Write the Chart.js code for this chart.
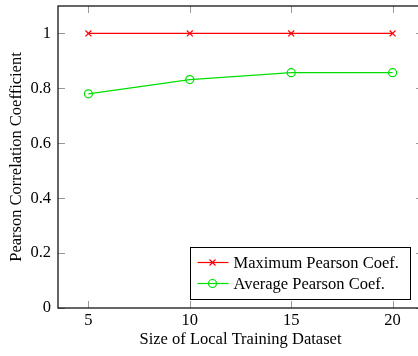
<!DOCTYPE html>
<html>
<head>
<meta charset="utf-8">
<script src="https://cdn.jsdelivr.net/npm/chart.js@4.4.1/dist/chart.umd.min.js"></script>
<style>
  html, body { margin: 0; padding: 0; background: #fff; overflow: hidden; }
  #wrap { width: 430px; height: 356px; }
</style>
</head>
<body>
<div id="wrap"><canvas id="chart" width="430" height="356"></canvas></div>
<script>
var sizes = [5, 10, 15, 20];
var maxPearson = [1, 1, 1, 1];
var avgPearson = [0.78, 0.832, 0.857, 0.857];
var yTicks = [0, 0.2, 0.4, 0.6, 0.8, 1];
var xTicks = [5, 10, 15, 20];

var FONT = "'Liberation Serif', serif";
var FS = 16.5;

// frame + inward tick marks, pgfplots style
var framePlugin = {
    id: 'frame',
    afterDatasetsDraw: function(chart) {
        var ctx = chart.ctx, a = chart.chartArea;
        var xs = chart.scales.x, ys = chart.scales.y;
        ctx.save();
        ctx.strokeStyle = '#999';
        ctx.lineWidth = 1;
        ctx.beginPath();
        xTicks.forEach(function(v) {
            var px = Math.round(xs.getPixelForValue(v)) + 0.5;
            ctx.moveTo(px, a.bottom); ctx.lineTo(px, a.bottom - 7);
            ctx.moveTo(px, a.top); ctx.lineTo(px, a.top + 7);
        });
        yTicks.forEach(function(v) {
            var py = Math.round(ys.getPixelForValue(v)) + 0.5;
            ctx.moveTo(a.left, py); ctx.lineTo(a.left + 7, py);
            ctx.moveTo(a.right, py); ctx.lineTo(a.right - 7, py);
        });
        ctx.stroke();
        ctx.strokeStyle = '#000';
        ctx.lineWidth = 1.2;
        ctx.strokeRect(a.left, a.top, a.right - a.left, a.bottom - a.top);
        ctx.restore();
    },
    afterDraw: function(chart) {
        // legend box in lower right corner
        var ctx = chart.ctx;
        var bx = 190.5, by = 247.5, bw = 220, bh = 52;
        ctx.save();
        ctx.fillStyle = '#fff';
        ctx.fillRect(bx, by, bw, bh);
        ctx.strokeStyle = '#000';
        ctx.lineWidth = 1;
        ctx.strokeRect(bx, by, bw, bh);
        ctx.font = FS + 'px ' + FONT;
        ctx.textBaseline = 'middle';
        chart.data.datasets.forEach(function(ds, i) {
            var cy = by + 15 + i * 21;
            ctx.strokeStyle = ds.borderColor;
            ctx.lineWidth = 1.2;
            ctx.beginPath();
            ctx.moveTo(bx + 7, cy); ctx.lineTo(bx + 38, cy);
            ctx.stroke();
            ctx.fillStyle = 'rgba(255,255,255,0)';
            Chart.helpers.drawPoint(ctx, {
                pointStyle: ds.pointStyle, radius: ds.pointRadius,
                borderWidth: ds.pointBorderWidth, rotation: 0
            }, bx + 22, cy);
            ctx.fillStyle = '#000';
            ctx.fillText(ds.label, bx + 43, cy + 1);
        });
        ctx.restore();
    }
};

new Chart(document.getElementById('chart').getContext('2d'), {
    type: 'line',
    data: {
        datasets: [{
            label: 'Maximum Pearson Coef.',
            data: sizes.map(function(s, i) { return { x: s, y: maxPearson[i] }; }),
            borderColor: '#ff0000',
            backgroundColor: 'rgba(0,0,0,0)',
            borderWidth: 1.2,
            pointStyle: 'crossRot',
            pointRadius: 4.2,
            pointBorderWidth: 1.2,
            pointBorderColor: '#ff0000',
            tension: 0
        }, {
            label: 'Average Pearson Coef.',
            data: sizes.map(function(s, i) { return { x: s, y: avgPearson[i] }; }),
            borderColor: '#00e000',
            backgroundColor: 'rgba(0,0,0,0)',
            borderWidth: 1.2,
            pointStyle: 'circle',
            pointRadius: 4,
            pointBorderWidth: 1.2,
            pointBorderColor: '#00e000',
            pointBackgroundColor: 'rgba(255,255,255,0)',
            tension: 0
        }]
    },
    options: {
        responsive: false,
        animation: false,
        layout: { padding: { top: 0, right: 7, left: 0, bottom: 0 } },
        plugins: { legend: { display: false }, tooltip: { enabled: false } },
        scales: {
            x: {
                type: 'linear',
                min: 3.5, max: 21.5,
                afterBuildTicks: function(s) { s.ticks = xTicks.map(function(v) { return { value: v }; }); },
                afterFit: function(s) { s.height = 48; s.paddingLeft = 0; s.paddingRight = 0; },
                grid: { display: false, drawTicks: false },
                border: { display: false },
                ticks: { color: '#000', padding: 3, font: { family: FONT, size: FS },
                         callback: function(v) { return String(v); } },
                title: { display: true, text: 'Size of Local Training Dataset', color: '#000',
                         padding: { top: 0, bottom: 6 }, font: { family: FONT, size: FS } }
            },
            y: {
                min: 0, max: 1.1,
                afterBuildTicks: function(s) { s.ticks = yTicks.map(function(v) { return { value: v }; }); },
                afterFit: function(s) { s.width = 58; s.paddingTop = 6; s.paddingBottom = 0; },
                grid: { display: false, drawTicks: false },
                border: { display: false },
                ticks: { color: '#000', padding: 7, font: { family: FONT, size: FS },
                         callback: function(v) { return String(v); } },
                title: { display: true, text: 'Pearson Correlation Coefficient', color: '#000',
                         padding: { top: 7, bottom: 0 }, font: { family: FONT, size: FS } }
            }
        }
    },
    plugins: [framePlugin]
});
</script>
</body>
</html>
